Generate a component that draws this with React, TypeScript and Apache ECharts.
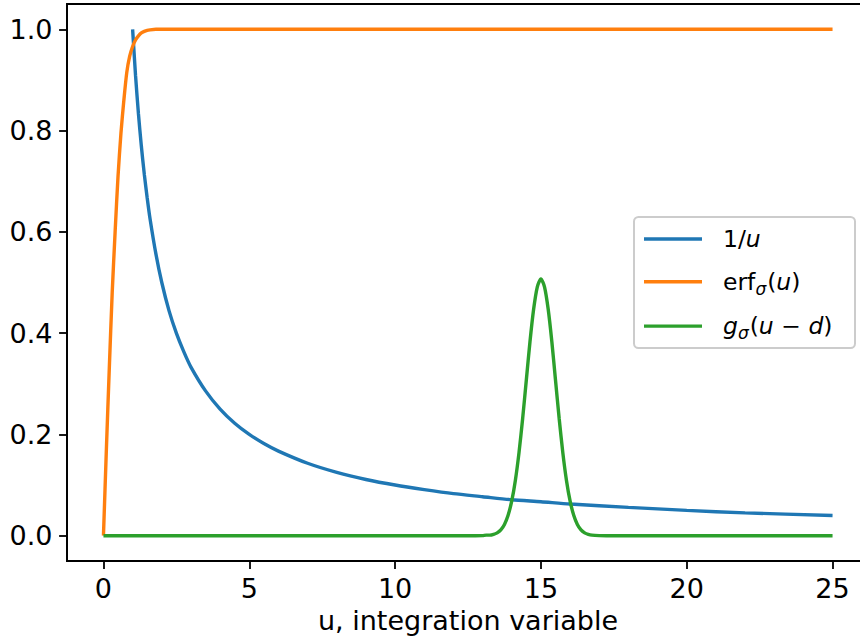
import React, { useEffect, useRef } from "react";
import * as echarts from "echarts";

const seriesNames = ["1/u", "erf_σ(u)", "g_σ(u−d)"];
const colors = ["#1f77b4", "#ff7f0e", "#2ca02c"];

const invU = [1.0, 1.1, 1.2, 1.3, 1.4, 1.5, 1.6, 1.8, 2.0, 2.25, 2.5, 2.75, 3, 3.5, 4, 4.5, 5, 5.5, 6, 7, 8, 9, 10, 11, 12, 13, 14, 15, 16, 18, 20, 22, 25];
const invV = [1.0, 0.909, 0.833, 0.769, 0.714, 0.667, 0.625, 0.556, 0.5, 0.444, 0.4, 0.364, 0.333, 0.286, 0.25, 0.222, 0.2, 0.182, 0.167, 0.143, 0.125, 0.111, 0.1, 0.091, 0.083, 0.077, 0.071, 0.067, 0.0625, 0.056, 0.05, 0.045, 0.04];

const erfU = [0, 0.1, 0.2, 0.3, 0.4, 0.5, 0.6, 0.7, 0.8, 0.9, 1.0, 1.1, 1.2, 1.3, 1.4, 1.5, 1.6, 1.8, 2.0, 3, 25];
const erfV = [0, 0.17, 0.33, 0.48, 0.6, 0.71, 0.795, 0.86, 0.915, 0.947, 0.966, 0.979, 0.987, 0.993, 0.996, 0.998, 0.999, 1.0, 1.0, 1.0, 1.0];

const gU = [0, 12.75, 13.0, 13.125, 13.25, 13.375, 13.5, 13.625, 13.75, 13.875, 14.0, 14.125, 14.25, 14.375, 14.5, 14.625, 14.75, 14.875, 15.0, 15.125, 15.25, 15.375, 15.5, 15.625, 15.75, 15.875, 16.0, 16.125, 16.25, 16.375, 16.5, 16.625, 16.75, 17.0, 17.25, 25];
const gV = [0, 0, 0.0002, 0.0011, 0.0011, 0.0026, 0.0056, 0.0115, 0.0223, 0.0403, 0.0686, 0.1097, 0.1646, 0.232, 0.3075, 0.383, 0.447, 0.491, 0.507, 0.491, 0.447, 0.383, 0.3075, 0.232, 0.1646, 0.1097, 0.0686, 0.0403, 0.0223, 0.0115, 0.0056, 0.0026, 0.0011, 0.0002, 0, 0];

const xTicks = [0, 5, 10, 15, 20, 25];
const yTicks = [0, 0.2, 0.4, 0.6, 0.8, 1.0];
const xLabel = "u, integration variable";

const FONT = "DejaVu Sans";

function zip(a: number[], b: number[]) {
  return a.map((v, i) => [v, b[i]]);
}

export default function App() {
  const ref = useRef<HTMLDivElement>(null);
  useEffect(() => {
    document.body.style.margin = "0";
    const chart = echarts.init(ref.current!, null, { renderer: "svg" });
    const legendRich: Record<string, string> = {
      [seriesNames[0]]: "1/{i|u}",
      [seriesNames[1]]: "erf{s|σ}({i|u})",
      [seriesNames[2]]: "{i|g}{s|σ}({i|u} − {i|d})",
    };
    const datas = [zip(invU, invV), zip(erfU, erfV), zip(gU, gV)];
    chart.setOption({
      animation: false,
      backgroundColor: "#fff",
      grid: {
        left: 67,
        top: 4,
        width: 802,
        height: 557,
        outerBoundsMode: "none",
        containLabel: false,
        show: true,
        borderColor: "#000",
        borderWidth: 1.8,
        backgroundColor: "transparent",
      },
      xAxis: {
        type: "value",
        min: -1.25,
        max: 26.25,
        splitLine: { show: false },
        axisLine: { onZero: false, lineStyle: { color: "#000", width: 1.8 } },
        axisTick: { customValues: xTicks, length: 7.9, lineStyle: { color: "#000", width: 1.8 } },
        axisLabel: {
          customValues: xTicks,
          fontSize: 27,
          color: "#000",
          fontFamily: FONT,
          margin: 14,
        },
        name: xLabel,
        nameLocation: "middle",
        nameGap: 45,
        nameTextStyle: { fontSize: 27, color: "#000", fontFamily: FONT },
      },
      yAxis: {
        type: "value",
        min: -0.05,
        max: 1.05,
        splitLine: { show: false },
        axisLine: { onZero: false, lineStyle: { color: "#000", width: 1.8 } },
        axisTick: { customValues: yTicks, length: 7.9, lineStyle: { color: "#000", width: 1.8 } },
        axisLabel: {
          customValues: yTicks,
          fontSize: 27,
          color: "#000",
          fontFamily: FONT,
          margin: 14.5,
          formatter: (v: number) => v.toFixed(1),
        },
      },
      legend: {
        orient: "vertical",
        left: 644,
        top: 225,
        padding: 0,
        z: 20,
        icon: "rect",
        itemWidth: 58,
        itemHeight: 3.4,
        itemGap: 13.3,
        data: seriesNames,
        formatter: (name: string) => legendRich[name],
        textStyle: {
          fontSize: 23.5,
          fontFamily: FONT,
          color: "#000",
          lineHeight: 28,
          padding: [0, 0, 0, 16],
          rich: {
            i: { fontStyle: "italic", fontSize: 23.5, fontFamily: FONT, color: "#000", lineHeight: 28 },
            s: { fontStyle: "italic", fontSize: 17, fontFamily: FONT, color: "#000", lineHeight: 28, padding: [14, 1, 0, 0] },
          },
        },
      },
      graphic: [
        {
          type: "rect",
          z: 10,
          shape: { x: 634, y: 217, width: 221, height: 131, r: 4.5 },
          style: { fill: "rgba(255,255,255,0.8)", stroke: "#cccccc", lineWidth: 2 },
        },
      ],
      series: datas.map((d, i) => ({
        name: seriesNames[i],
        type: "line",
        data: d,
        symbol: "none",
        smooth: 0.25,
        color: colors[i],
        lineStyle: { width: 3.4, color: colors[i] },
      })),
    });
    return () => chart.dispose();
  }, []);
  return <div ref={ref} style={{ position: "fixed", left: 0, top: 0, width: 860, height: 639 }} />;
}
